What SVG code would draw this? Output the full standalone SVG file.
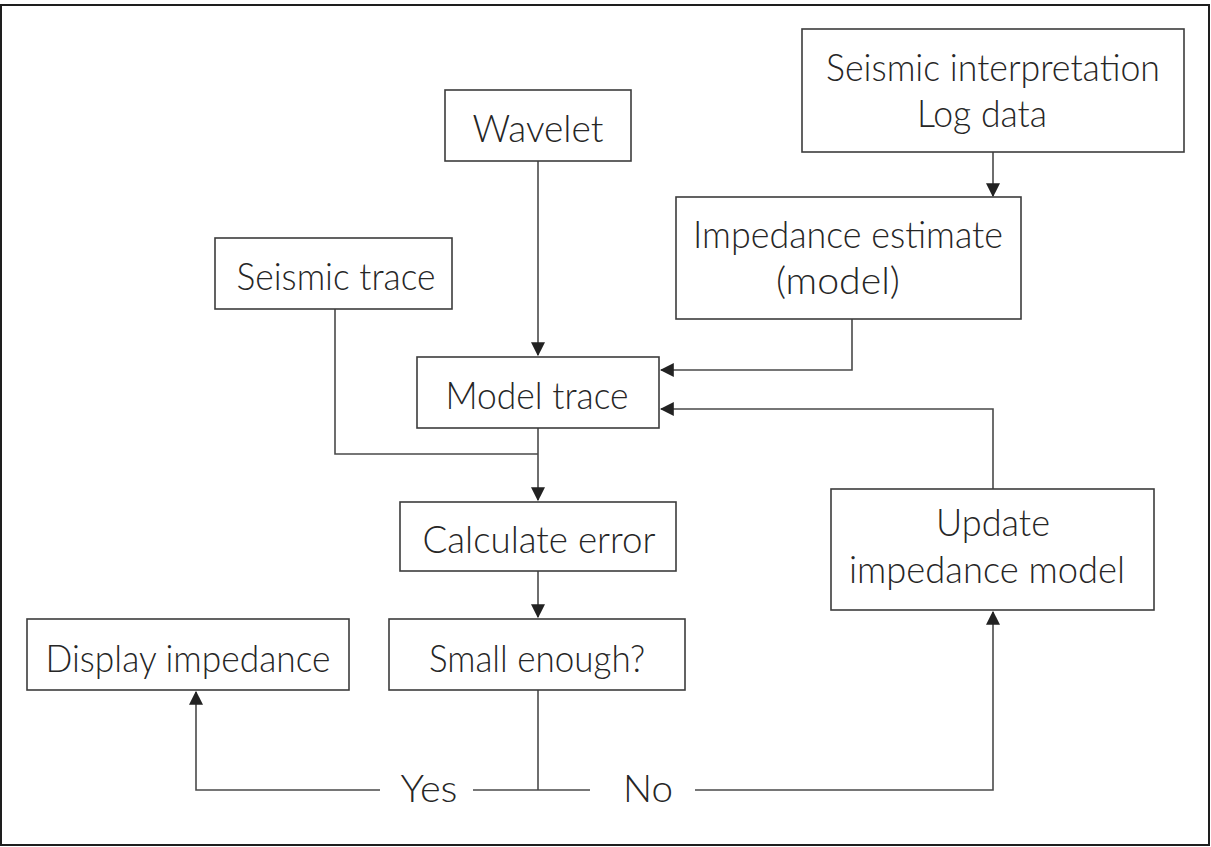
<svg xmlns="http://www.w3.org/2000/svg" width="1211" height="847" viewBox="0 0 1211 847">
  <style>
    .frame { fill: #ffffff; stroke: #1e1e1e; stroke-width: 2; }
    .box { fill: #ffffff; stroke: #3c3c3c; stroke-width: 1.6; }
    .lbl { font-family: Lato, "Liberation Sans", sans-serif; font-weight: 300; font-size: 37px; fill: #262626; text-anchor: middle; }
    .wire { fill: none; stroke: #4a4a4a; stroke-width: 1.6; }
    .arrow { marker-end: url(#head); }
  </style>
  <defs>
    <marker id="head" markerUnits="userSpaceOnUse" markerWidth="14" markerHeight="14" viewBox="0 0 12 12" refX="11" refY="6" orient="auto">
      <path d="M0,0 L12,6 L0,12 Z" fill="#222222"/>
    </marker>
  </defs>

  <rect class="frame" x="1" y="5" width="1208" height="840"/>

  <!-- connectors -->
  <g id="connectors">
    <path class="wire arrow" d="M993,152 V196"/>
    <path class="wire arrow" d="M538,161 V355"/>
    <path class="wire arrow" d="M852,319 V370 H661"/>
    <path class="wire arrow" d="M993,489 V409 H661"/>
    <path class="wire" d="M335,309 V454 H538"/>
    <path class="wire arrow" d="M538,428 V500"/>
    <path class="wire arrow" d="M538,571 V617"/>
    <path class="wire" d="M538,690 V790"/>
    <path class="wire arrow" d="M380,790 H196 V692"/>
    <path class="wire" d="M473,790 H590"/>
    <path class="wire arrow" d="M695,790 H993 V612"/>
    <text class="lbl" x="429" y="802" textLength="57" lengthAdjust="spacingAndGlyphs">Yes</text>
    <text class="lbl" x="648" y="802" textLength="50" lengthAdjust="spacingAndGlyphs">No</text>
  </g>

  <g id="seismic-interpretation">
    <rect class="box" x="802" y="29" width="382" height="123"/>
    <text class="lbl" x="993" y="81" textLength="334" lengthAdjust="spacingAndGlyphs">Seismic interpretation</text>
    <text class="lbl" x="982" y="127" textLength="130" lengthAdjust="spacingAndGlyphs">Log data</text>
  </g>

  <g id="wavelet">
    <rect class="box" x="445" y="90" width="186" height="71"/>
    <text class="lbl" x="538" y="142" textLength="131" lengthAdjust="spacingAndGlyphs">Wavelet</text>
  </g>

  <g id="impedance-estimate">
    <rect class="box" x="676" y="197" width="345" height="122"/>
    <text class="lbl" x="848" y="248" textLength="310" lengthAdjust="spacingAndGlyphs">Impedance estimate</text>
    <text class="lbl" x="838" y="294" textLength="124" lengthAdjust="spacingAndGlyphs">(model)</text>
  </g>

  <g id="seismic-trace">
    <rect class="box" x="215" y="238" width="237" height="71"/>
    <text class="lbl" x="336" y="290" textLength="199" lengthAdjust="spacingAndGlyphs">Seismic trace</text>
  </g>

  <g id="model-trace">
    <rect class="box" x="417" y="357" width="242" height="71"/>
    <text class="lbl" x="537" y="409" textLength="183" lengthAdjust="spacingAndGlyphs">Model trace</text>
  </g>

  <g id="calculate-error">
    <rect class="box" x="400" y="502" width="276" height="69"/>
    <text class="lbl" x="539" y="553" textLength="233" lengthAdjust="spacingAndGlyphs">Calculate error</text>
  </g>

  <g id="update-impedance-model">
    <rect class="box" x="831" y="489" width="323" height="121"/>
    <text class="lbl" x="993" y="536" textLength="114" lengthAdjust="spacingAndGlyphs">Update</text>
    <text class="lbl" x="987" y="583" textLength="276" lengthAdjust="spacingAndGlyphs">impedance model</text>
  </g>

  <g id="display-impedance">
    <rect class="box" x="27" y="619" width="322" height="71"/>
    <text class="lbl" x="188" y="672" textLength="285" lengthAdjust="spacingAndGlyphs">Display impedance</text>
  </g>

  <g id="small-enough">
    <rect class="box" x="389" y="619" width="296" height="71"/>
    <text class="lbl" x="537" y="672" textLength="216" lengthAdjust="spacingAndGlyphs">Small enough?</text>
  </g>
</svg>
